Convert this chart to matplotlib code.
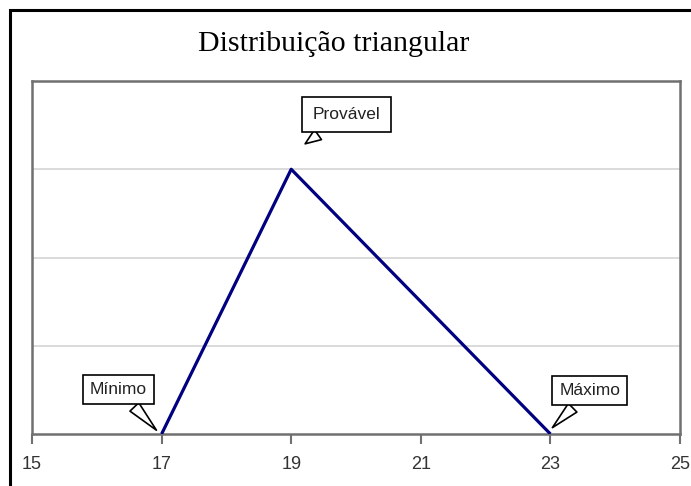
import matplotlib.pyplot as plt
from matplotlib.patches import Rectangle

# triangular distribution: min, most likely, max
x_vals = [17, 19, 23]
y_vals = [0, 3, 0]
x_ticks = [15, 17, 19, 21, 23, 25]
labels = ["Mínimo", "Provável", "Máximo"]

W, H = 691, 486
fig = plt.figure(figsize=(W / 100, H / 100), dpi=100)

# outer black frame of the chart object
fig.patches.append(Rectangle((10 / W, -0.1), 1.2, (H - 10) / H + 0.1,
                             transform=fig.transFigure, fill=False,
                             ec="black", lw=2.2))

ax = fig.add_axes([32 / W, (H - 434) / H, (680 - 32) / W, (434 - 81) / H])
ax.plot(x_vals, y_vals, color="#000080", lw=2.3, solid_capstyle="butt", zorder=3)

ax.set_xlim(15, 25)
ax.set_ylim(0, 4)
ax.set_xticks(x_ticks)
ax.set_yticks([1, 2, 3])
ax.set_yticklabels([])
ax.tick_params(axis="y", length=0)
ax.tick_params(axis="x", direction="out", length=7, width=1.5, color="#707070",
               labelsize=13, pad=9, labelcolor="#333333")
for lab in ax.get_xticklabels():
    lab.set_family("Liberation Sans")
ax.grid(axis="y", color="#d4d4d4", lw=1.2)
ax.set_axisbelow(True)
for s in ax.spines.values():
    s.set_color("#707070")
    s.set_linewidth(1.8)

fig.text(334 / W, 1 - 44 / H, "Distribuição triangular", ha="center", va="center",
         family="Liberation Serif", fontsize=21.5)

# callouts
arrow = dict(arrowstyle="wedge,tail_width=0.7,shrink_factor=0.5", fc="white",
             ec="black", lw=1.2)


def callout(label, tip, pos, pad=0.4):
    box = dict(boxstyle=f"square,pad={pad}", fc="white", ec="black", lw=1.2)
    ax.annotate(label, xy=tip, xytext=pos, ha="center", va="center",
                fontsize=12.5, family="Liberation Sans", color="#222222",
                bbox=box, arrowprops=arrow)


callout(labels[0], (16.95, 0.02), (16.33, 0.5))
callout(labels[1], (19.18, 3.27), (19.85, 3.62), pad=0.6)
callout(labels[2], (23.0, 0.05), (23.61, 0.49))

fig.savefig("out.png", dpi=100)
